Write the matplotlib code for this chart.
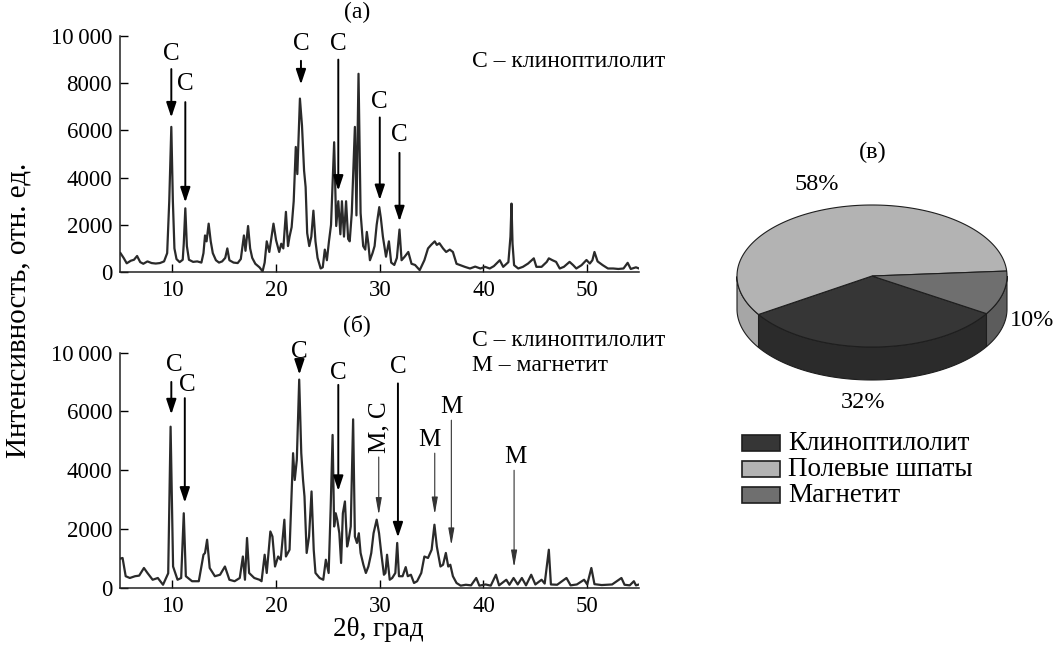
import matplotlib

matplotlib.use("Agg")
import matplotlib.pyplot as plt
import numpy as np
from matplotlib.patches import Polygon, Rectangle

plt.rcParams["font.family"] = ["Liberation Serif", "DejaVu Serif"]

# (a) diffractogram, 2theta (deg) vs intensity
theta_a = [5.0, 5.3, 5.6, 6.0, 6.3, 6.6, 6.9, 7.2, 7.6, 8.0, 8.4, 8.8, 9.2, 9.5,
           9.7, 9.9, 10.05, 10.2, 10.4, 10.7, 11.0, 11.1, 11.25, 11.4, 11.6,
           12.0, 12.4, 12.8, 13.0, 13.15, 13.3, 13.5, 13.7, 13.9, 14.2, 14.5,
           14.8, 15.1, 15.3, 15.5, 15.9, 16.3, 16.6, 16.9, 17.05, 17.3, 17.5,
           17.7, 18.0, 18.4, 18.7, 18.9, 19.1, 19.35, 19.5, 19.75, 20.0, 20.3,
           20.5, 20.7, 20.95, 21.15, 21.3, 21.5, 21.7, 21.9, 22.05, 22.3, 22.5,
           22.7, 22.85, 23.0, 23.2, 23.4, 23.6, 23.8, 24.0, 24.3, 24.5, 24.7,
           24.9, 25.1, 25.3, 25.6, 25.8, 26.0, 26.2, 26.35, 26.55, 26.75, 26.95,
           27.1, 27.3, 27.6, 27.75, 27.95, 28.15, 28.4, 28.6, 28.75, 28.9, 29.05,
           29.3, 29.5, 29.7, 29.95, 30.1, 30.3, 30.6, 30.88, 31.1, 31.4, 31.65,
           31.9, 32.1, 32.4, 32.75, 33.06, 33.4, 33.85, 34.3, 34.65, 34.95, 35.3,
           35.5, 35.75, 36.1, 36.4, 36.75, 37.05, 37.4, 37.7, 38.2, 38.7, 39.2,
           39.7, 40.15, 40.6, 41.0, 41.57, 41.9, 42.4, 42.6, 42.7, 42.8, 42.95,
           43.35, 43.8, 44.3, 44.85, 45.1, 45.6, 46.1, 46.3, 46.65, 47.0, 47.35,
           47.75, 48.3, 48.65, 48.95, 49.45, 49.93, 50.25, 50.5, 50.7, 51.0,
           51.5, 52.0, 52.5, 53.0, 53.5, 53.9, 54.2, 54.7, 55.0]
int_a = [800, 600, 370, 480, 520, 680, 420, 350, 450, 380, 360, 380, 450, 800,
         3000, 6150, 3000, 1000, 550, 420, 520, 1200, 2700, 1100, 520,
         430, 450, 400, 800, 1550, 1300, 2050, 1300, 800, 500, 400,
         450, 600, 1000, 500, 400, 380, 550, 1550, 900, 1950, 1000,
         600, 350, 200, 30, 400, 1300, 850, 1300, 2050, 1350, 850,
         1200, 1000, 2550, 1100, 1500, 1900, 3000, 5300, 4150, 7350, 6200,
         4300, 3600, 1650, 1100, 1500, 2600, 1300, 600, 150, 200, 950,
         500, 1300, 2000, 5500, 1950, 3000, 1600, 3000, 1500, 3000, 1400,
         1300, 2500, 6150, 2400, 8400, 2500, 1100, 950, 1700, 1200, 500,
         800, 1100, 2000, 2750, 2300, 1500, 650, 1300, 400, 300, 600,
         1800, 500, 650, 850, 350, 300, 80, 500, 1000, 1150, 1300,
         1150, 1220, 1000, 850, 950, 850, 350, 300, 220, 150, 230,
         150, 220, 150, 250, 500, 220, 420, 1500, 2900, 1200, 290,
         150, 220, 360, 580, 220, 220, 430, 580, 500, 430, 150,
         220, 430, 290, 150, 290, 510, 360, 500, 850, 450,
         290, 150, 150, 130, 150, 390, 130, 200, 150]

# (б) diffractogram
theta_b = [5.0, 5.2, 5.5, 5.9, 6.4, 6.8, 7.26, 7.6, 8.1, 8.6, 9.1, 9.6, 9.83,
           10.07, 10.5, 10.85, 11.1, 11.3, 11.9, 12.55, 13.0, 13.15, 13.35,
           13.6, 14.1, 14.6, 15.07, 15.5, 16.0, 16.5, 16.8, 17.0, 17.2, 17.4,
           17.9, 18.4, 18.6, 18.9, 19.1, 19.45, 19.65, 19.9, 20.2, 20.45, 20.8,
           20.95, 21.3, 21.64, 21.8, 22.0, 22.23, 22.43, 22.6, 22.74, 22.95,
           23.18, 23.42, 23.63, 23.8, 24.2, 24.55, 24.8, 25.07, 25.27, 25.45,
           25.6, 25.75, 25.9, 26.1, 26.27, 26.44, 26.64, 26.85, 27.0, 27.2,
           27.43, 27.6, 27.8, 27.98, 28.15, 28.42, 28.66, 28.9, 29.18, 29.4,
           29.7, 29.93, 30.14, 30.4, 30.55, 30.7, 30.96, 31.2, 31.5, 31.68,
           31.85, 32.2, 32.5, 32.7, 33.0, 33.3, 33.6, 34.0, 34.3, 34.65, 35.0,
           35.27, 35.5, 35.85, 36.1, 36.37, 36.6, 36.8, 37.05, 37.4, 37.8, 38.3,
           38.8, 39.3, 39.6, 40.2, 40.7, 41.2, 41.5, 42.2, 42.5, 42.9, 43.3,
           43.7, 44.1, 44.6, 45.0, 45.6, 45.9, 46.3, 46.5, 47.1, 48.0, 48.4,
           49.0, 49.7, 50.0, 50.4, 50.7, 51.4, 52.4, 53.3, 53.6, 54.1, 54.5,
           54.7, 55.0]
int_b = [1000, 1020, 400, 340, 400, 420, 680, 510, 280, 340, 110, 500, 5480,
         730, 280, 340, 2540, 400, 230, 230, 1130, 1190, 1640,
         680, 400, 450, 730, 280, 230, 340, 1070, 280, 1700, 510,
         340, 280, 230, 1130, 510, 1920, 1750, 730, 1070, 960, 2320,
         1070, 1300, 4580, 3670, 4350, 7080, 4580, 3670, 3110, 1190,
         1750, 3280, 1300, 510, 340, 280, 960, 510, 2770, 5200,
         2090, 2540, 2320, 1860, 850, 2540, 2940, 1410, 1640, 2090,
         5730, 1750, 1530, 1860, 1190, 790, 510, 730, 1190, 1860,
         2320, 1860, 1190, 450, 510, 1130, 280, 340, 510, 1530,
         400, 400, 710, 400, 450, 170, 230, 510, 1070, 1020, 1300,
         2150, 1410, 730, 790, 1190, 730, 790, 400, 170, 80, 110,
         90, 340, 80, 120, 80, 450, 90, 280, 110, 340, 120,
         340, 90, 450, 120, 280, 150, 1300, 120, 110, 340, 90,
         120, 280, 120, 680, 130, 100, 120, 340, 110, 90, 230,
         90, 120]

# (в) phase composition
phases = ["Клиноптилолит", "Полевые шпаты", "Магнетит"]
shares = [32, 58, 10]

FS = 16.5
fig = plt.figure(figsize=(10.57, 6.48), dpi=100)
ax1 = fig.add_axes([0.114, 0.5802, 0.4906, 0.3642])
ax2 = fig.add_axes([0.114, 0.0926, 0.4906, 0.3634])

ax1.plot(theta_a, int_a, color="#2a2a2a", lw=1.6)
ax2.plot(theta_b, int_b, color="#2a2a2a", lw=1.6)

ax1.set_ylim(0, 10000)
ax1.set_yticks(range(0, 10001, 2000),
               ["0", "2000", "4000", "6000", "8000", "10\u2009000"])
ax2.set_ylim(0, 8000)
ax2.set_yticks(range(0, 8001, 2000),
               ["0", "2000", "4000", "6000", "10\u2009000"])
for ax in (ax1, ax2):
    ax.set_xlim(5, 55)
    ax.set_xticks([10, 20, 30, 40, 50])
    ax.tick_params(direction="in", length=6, width=1, labelsize=FS, pad=6)
    ax.spines[["top", "right"]].set_visible(False)
    for s in ("left", "bottom"):
        ax.spines[s].set_linewidth(1.1)
        ax.spines[s].set_color("#222222")
    ax.patch.set_alpha(0)

thick = dict(arrowstyle="-|>,head_length=0.75,head_width=0.25", lw=1.4,
             color="black", mutation_scale=12, shrinkA=0, shrinkB=0)
thin = dict(arrowstyle="-|>,head_length=0.85,head_width=0.15", lw=0.8,
            color="#333333", mutation_scale=12, shrinkA=0, shrinkB=0)


def mark(ax, label, x, ytext, ytail, yhead, style, xtext=None, **kw):
    ax.annotate("", xy=(x, yhead), xytext=(x, ytail), arrowprops=style)
    ax.text(x if xtext is None else xtext, ytext, label, ha="center",
            va="center", fontsize=18, **kw)


mark(ax1, "C", 9.9, 9250, 8600, 6550, thick)
mark(ax1, "C", 11.25, 7950, 7200, 2950, thick)
mark(ax1, "C", 22.4, 9650, 8950, 7950, thick)
mark(ax1, "C", 26.0, 9650, 9000, 3450, thick)
mark(ax1, "C", 30.0, 7200, 6550, 3050, thick)
mark(ax1, "C", 31.9, 5800, 5050, 2150, thick)
ax1.text(38.9, 8900, "C – клиноптилолит", fontsize=17, va="center")
ax1.text(27.8, 11000, "(a)", fontsize=17, ha="center", va="center",
         clip_on=False)

mark(ax2, "C", 9.9, 7570, 7000, 5900, thick, xtext=10.2)
mark(ax2, "C", 11.2, 6900, 6450, 2900, thick, xtext=11.4)
mark(ax2, "C", 22.25, 8020, 7520, 7250, thick)
mark(ax2, "C", 26.0, 7290, 6900, 3300, thick)
mark(ax2, "M, C", 29.9, 5480, 4450, 2480, thin, xtext=30.0, rotation=90)
mark(ax2, "C", 31.75, 7520, 6950, 1720, thick)
mark(ax2, "M", 35.3, 5030, 4580, 2500, thin, xtext=34.8)
mark(ax2, "M", 36.9, 6160, 5700, 1450, thin)
mark(ax2, "M", 42.95, 4460, 4000, 700, thin, xtext=43.05)
ax2.text(38.9, 8410, "C – клиноптилолит", fontsize=17, va="center",
         clip_on=False)
ax2.text(38.9, 7560, "M – магнетит", fontsize=17, va="center")
ax2.text(27.8, 8920, "(б)", fontsize=17, ha="center", va="center",
         clip_on=False)

fig.text(19 / 1057, 1 - 310 / 648, "Интенсивность, отн. ед.", rotation=90,
         fontsize=21, ha="center", va="center")
fig.text(378 / 1057, 1 - 630 / 648, "2θ, град", fontsize=19.5, ha="center",
         va="center")

# pseudo-3D pie drawn in pixel coordinates
axp = fig.add_axes([700 / 1057, 0, 357 / 1057, 1])
axp.set_xlim(700, 1057)
axp.set_ylim(648, 0)
axp.axis("off")

tops = ["#363636", "#b3b3b3", "#6f6f6f"]
sides = ["#2b2b2b", "#a6a6a6", "#5c5c5c"]
cx, cy, ra, rb, depth = 872, 276, 135, 71, 33
fr = np.array(shares) / sum(shares)
bounds = 328 - 360 * np.concatenate([[0], np.cumsum(fr)])

for i in range(len(shares)):
    t = np.radians(np.linspace(bounds[i], bounds[i + 1], 400))
    front = t[np.sin(t) <= 0]
    if len(front):
        xs = cx + ra * np.cos(front)
        ys = cy - rb * np.sin(front)
        pts = np.column_stack([np.r_[xs, xs[::-1]],
                               np.r_[ys, ys[::-1] + depth]])
        axp.add_patch(Polygon(pts, closed=True, fc=sides[i], ec="#1e1e1e",
                              lw=0.8, zorder=1))
for i in range(len(shares)):
    t = np.radians(np.linspace(bounds[i], bounds[i + 1], 400))
    pts = np.column_stack([np.r_[cx, cx + ra * np.cos(t)],
                           np.r_[cy, cy - rb * np.sin(t)]])
    axp.add_patch(Polygon(pts, closed=True, fc=tops[i], ec="#1e1e1e",
                          lw=0.8, zorder=2))

pct_pos = [(863, 403), (817, 185), (1032, 320)]
for v, (px, py) in zip(shares, pct_pos):
    axp.text(px, py, f"{v}%", fontsize=17.5, ha="center", va="center")
axp.text(873, 152, "(в)", fontsize=17.5, ha="center", va="center")

# legend, one row per phase
for k, (name, c) in enumerate(zip(phases, tops)):
    yc = 443 + 26 * k
    axp.add_patch(Rectangle((742, yc - 8), 38, 16, fc=c, ec="#1e1e1e",
                            lw=1.2))
    axp.text(788, yc, name, fontsize=19.5, va="center")

fig.savefig("out.png", dpi=100)
